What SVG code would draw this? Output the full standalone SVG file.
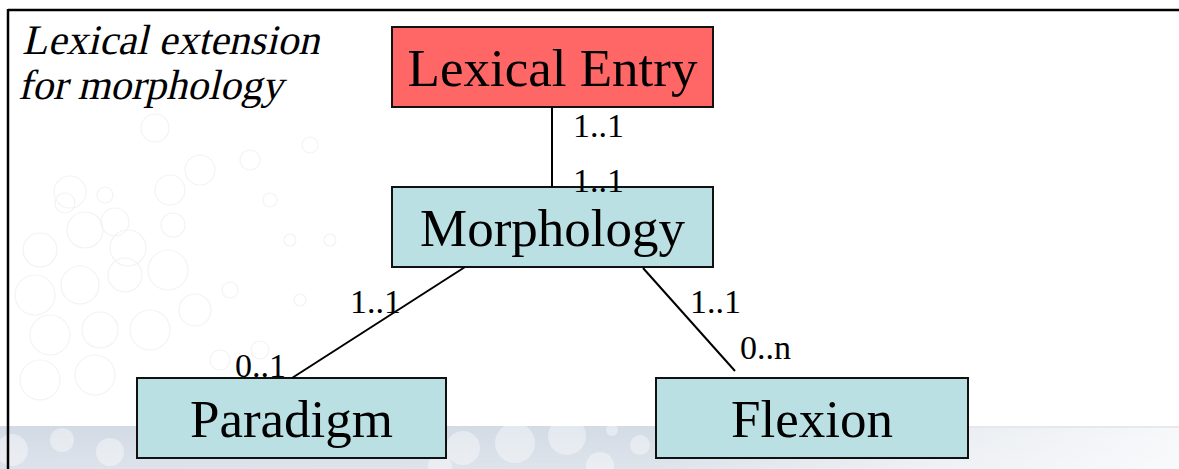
<svg xmlns="http://www.w3.org/2000/svg" width="1179" height="469" viewBox="0 0 1179 469">
  <defs>
    <linearGradient id="band" x1="0" y1="0" x2="1" y2="0">
      <stop offset="0" stop-color="#d2dae5"/>
      <stop offset="0.55" stop-color="#d3dbe5"/>
      <stop offset="0.8" stop-color="#e9edf2"/>
      <stop offset="1" stop-color="#f7f8fa"/>
    </linearGradient>
    <linearGradient id="bandFade" x1="0" y1="0" x2="0" y2="1">
      <stop offset="0" stop-color="#ffffff" stop-opacity="0"/>
      <stop offset="1" stop-color="#ffffff" stop-opacity="0.25"/>
    </linearGradient>
    <style>
      .node rect { stroke: #111; stroke-width: 2; }
      .entity { fill: #bbe0e3; }
      .root { fill: #ff6666; }
      .name { font-family: "Liberation Serif", "Times New Roman", serif; font-size: 53px; fill: #000; text-anchor: middle; }
      .card { font-family: "Liberation Serif", "Times New Roman", serif; font-size: 34px; fill: #000; }
      .title { font-family: "Liberation Serif", "Times New Roman", serif; font-size: 42px; fill: #000; }
      .ring { fill: none; stroke: #f3f3f3; stroke-width: 1.2; }
      .bubble { fill: #ffffff; opacity: 0.4; }
      .edge { stroke: #000; stroke-width: 2; fill: none; }
    </style>
  </defs>

  <!-- page background -->
  <rect width="1179" height="469" fill="#ffffff"/>

  <!-- faint ring texture on the left -->
  <g id="texture">
    <circle class="ring" cx="65" cy="203" r="10"/>
    <circle class="ring" cx="105" cy="195" r="8"/>
    <circle class="ring" cx="155" cy="128" r="14"/>
    <circle class="ring" cx="200" cy="170" r="15"/>
    <circle class="ring" cx="250" cy="160" r="10"/>
    <circle class="ring" cx="70" cy="192" r="16"/>
    <circle class="ring" cx="115" cy="222" r="14"/>
    <circle class="ring" cx="170" cy="190" r="15"/>
    <circle class="ring" cx="40" cy="250" r="17"/>
    <circle class="ring" cx="85" cy="230" r="18"/>
    <circle class="ring" cx="128" cy="248" r="18"/>
    <circle class="ring" cx="173" cy="225" r="12"/>
    <circle class="ring" cx="35" cy="295" r="20"/>
    <circle class="ring" cx="80" cy="285" r="19"/>
    <circle class="ring" cx="125" cy="275" r="17"/>
    <circle class="ring" cx="168" cy="270" r="20"/>
    <circle class="ring" cx="195" cy="310" r="16"/>
    <circle class="ring" cx="50" cy="335" r="20"/>
    <circle class="ring" cx="100" cy="330" r="18"/>
    <circle class="ring" cx="150" cy="330" r="20"/>
    <circle class="ring" cx="40" cy="380" r="20"/>
    <circle class="ring" cx="95" cy="375" r="20"/>
    <circle class="ring" cx="270" cy="200" r="7"/>
    <circle class="ring" cx="290" cy="240" r="6"/>
    <circle class="ring" cx="310" cy="145" r="8"/>
    <circle class="ring" cx="230" cy="290" r="8"/>
    <circle class="ring" cx="300" cy="300" r="6"/>
    <circle class="ring" cx="260" cy="350" r="9"/>
    <circle class="ring" cx="220" cy="360" r="10"/>
    <circle class="ring" cx="330" cy="240" r="6"/>
  </g>

  <!-- bottom band with soft bubbles -->
  <g id="band-strip">
    <rect x="0" y="426" width="1179" height="43" fill="url(#band)"/>
    <line x1="960" y1="427" x2="1179" y2="427" stroke="#e2e4e8" stroke-width="1.5"/>
    <circle class="bubble" cx="12" cy="450" r="16"/>
    <circle class="bubble" cx="62" cy="440" r="12"/>
    <circle class="bubble" cx="110" cy="452" r="14"/>
    <circle class="bubble" cx="463" cy="448" r="17"/>
    <circle class="bubble" cx="515" cy="443" r="20"/>
    <circle class="bubble" cx="567" cy="436" r="19"/>
    <circle class="bubble" cx="612" cy="430" r="6"/>
    <circle class="bubble" cx="440" cy="466" r="12"/>
    <circle class="bubble" cx="600" cy="466" r="14"/>
    <circle class="bubble" cx="640" cy="445" r="10"/>
    <rect x="0" y="426" width="1179" height="43" fill="url(#bandFade)"/>
  </g>

  <!-- frame -->
  <g id="frame" stroke="#000" stroke-width="2.5" fill="none">
    <line x1="8" y1="10" x2="1179" y2="10"/>
    <line x1="8" y1="9" x2="8" y2="469"/>
  </g>

  <!-- heading, slanted serif -->
  <g id="heading">
    <text class="title" transform="translate(22 54) skewX(-13)">Lexical extension</text>
    <text class="title" transform="translate(18 99) skewX(-13)">for morphology</text>
  </g>

  <!-- entities -->
  <g id="lexical-entry" class="node">
    <rect class="root" x="392" y="27" width="321" height="80"/>
    <text class="name" x="552.5" y="86">Lexical Entry</text>
  </g>
  <g id="morphology" class="node">
    <rect class="entity" x="392" y="187" width="321" height="80"/>
    <text class="name" x="552.5" y="246">Morphology</text>
  </g>
  <g id="paradigm" class="node">
    <rect class="entity" x="137" y="378" width="309" height="80"/>
    <text class="name" x="291.5" y="437">Paradigm</text>
  </g>
  <g id="flexion" class="node">
    <rect class="entity" x="656" y="378" width="312" height="80"/>
    <text class="name" x="812" y="437">Flexion</text>
  </g>

  <!-- associations with their cardinalities (drawn over the boxes) -->
  <g id="connectors">
    <line class="edge" x1="552" y1="107" x2="552" y2="187"/>
    <line class="edge" x1="465" y1="267" x2="292" y2="378"/>
    <line class="edge" x1="643" y1="268" x2="735" y2="371"/>
    <text class="card" x="573" y="137">1..1</text>
    <text class="card" x="573" y="192">1..1</text>
    <text class="card" x="350" y="313">1..1</text>
    <text class="card" x="235" y="377">0..1</text>
    <text class="card" x="690" y="313">1..1</text>
    <text class="card" x="740" y="359">0..n</text>
  </g>
</svg>
